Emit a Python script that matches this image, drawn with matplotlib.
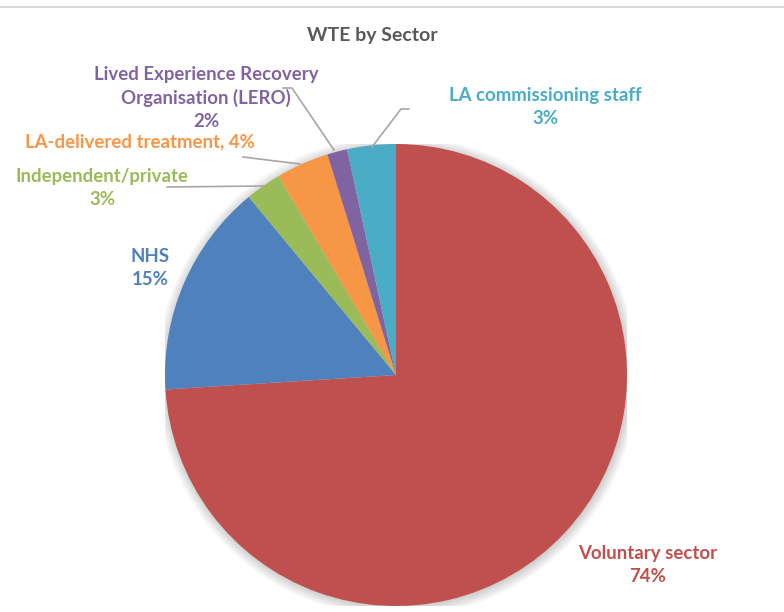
import matplotlib.pyplot as plt
from matplotlib.lines import Line2D
from matplotlib.patches import Circle

# data, clockwise from 12 o'clock
sectors = ["Voluntary sector", "NHS", "Independent/private",
           "LA-delivered treatment", "Lived Experience Recovery\nOrganisation (LERO)",
           "LA commissioning staff"]
shares = [74.0, 15.0, 2.5, 3.7, 1.4, 3.4]
pct_labels = ["74%", "15%", "3%", "4%", "2%", "3%"]
colors = ["#C0504D", "#4F81BD", "#9BBB59", "#F79646", "#8064A2", "#4BACC6"]

W, H = 784, 612
cx, cy, r = 396, 375, 231

plt.rcParams['font.family'] = ['Lato', 'DejaVu Sans']

fig = plt.figure(figsize=(W / 100, H / 100), dpi=100)
ax = fig.add_axes([(cx - r) / W, (H - cy - r) / H, 2 * r / W, 2 * r / H])

# soft shadow
for i in range(8):
    ax.add_patch(Circle((0.004, -0.006), 1.0 + 0.006 * i, color="black",
                        alpha=0.025, lw=0, zorder=0))

ax.pie(shares, colors=colors, startangle=90, counterclock=False, radius=1,
       wedgeprops=dict(linewidth=0), frame=True)
ax.set_xlim(-1, 1)
ax.set_ylim(-1, 1)
ax.axis("off")


def to_data(px, py):
    return (px - cx) / r, (cy - py) / r


# label placement in pixels (text center), and leader lines
label_pos = [(648, 565), (150, 268), (102, 188), (140, 142), (206, 98), (545, 107)]
inline = [False, False, False, True, False, False]
leaders = [None, None,
           [(167, 187), (263, 186)],
           [(243, 157), (300, 164)],
           [(283, 88), (292, 88), (334, 150)],
           [(409, 109), (401, 109), (372, 147)]]

for name, pct, col, pos, one_line, lead in zip(sectors, pct_labels, colors,
                                                label_pos, inline, leaders):
    txt = f"{name}, {pct}" if one_line else f"{name}\n{pct}"
    x, y = to_data(*pos)
    ax.text(x, y, txt, color=col, fontsize=13.4, fontweight="bold",
            ha="center", va="center", linespacing=1.4)
    if lead:
        xs, ys = zip(*[to_data(px, py) for px, py in lead])
        ax.plot(xs, ys, color="#A6A6A6", lw=1.2, clip_on=False)

fig.text(372 / W, 1 - 36 / H, "WTE by Sector", color="#595959", fontsize=14,
         fontweight="bold", ha="center", va="center")

fig.add_artist(Line2D([0, 1], [1 - 7 / H, 1 - 7 / H], color="#D9D9D9", lw=1.5))

fig.savefig("out.png", dpi=100)
